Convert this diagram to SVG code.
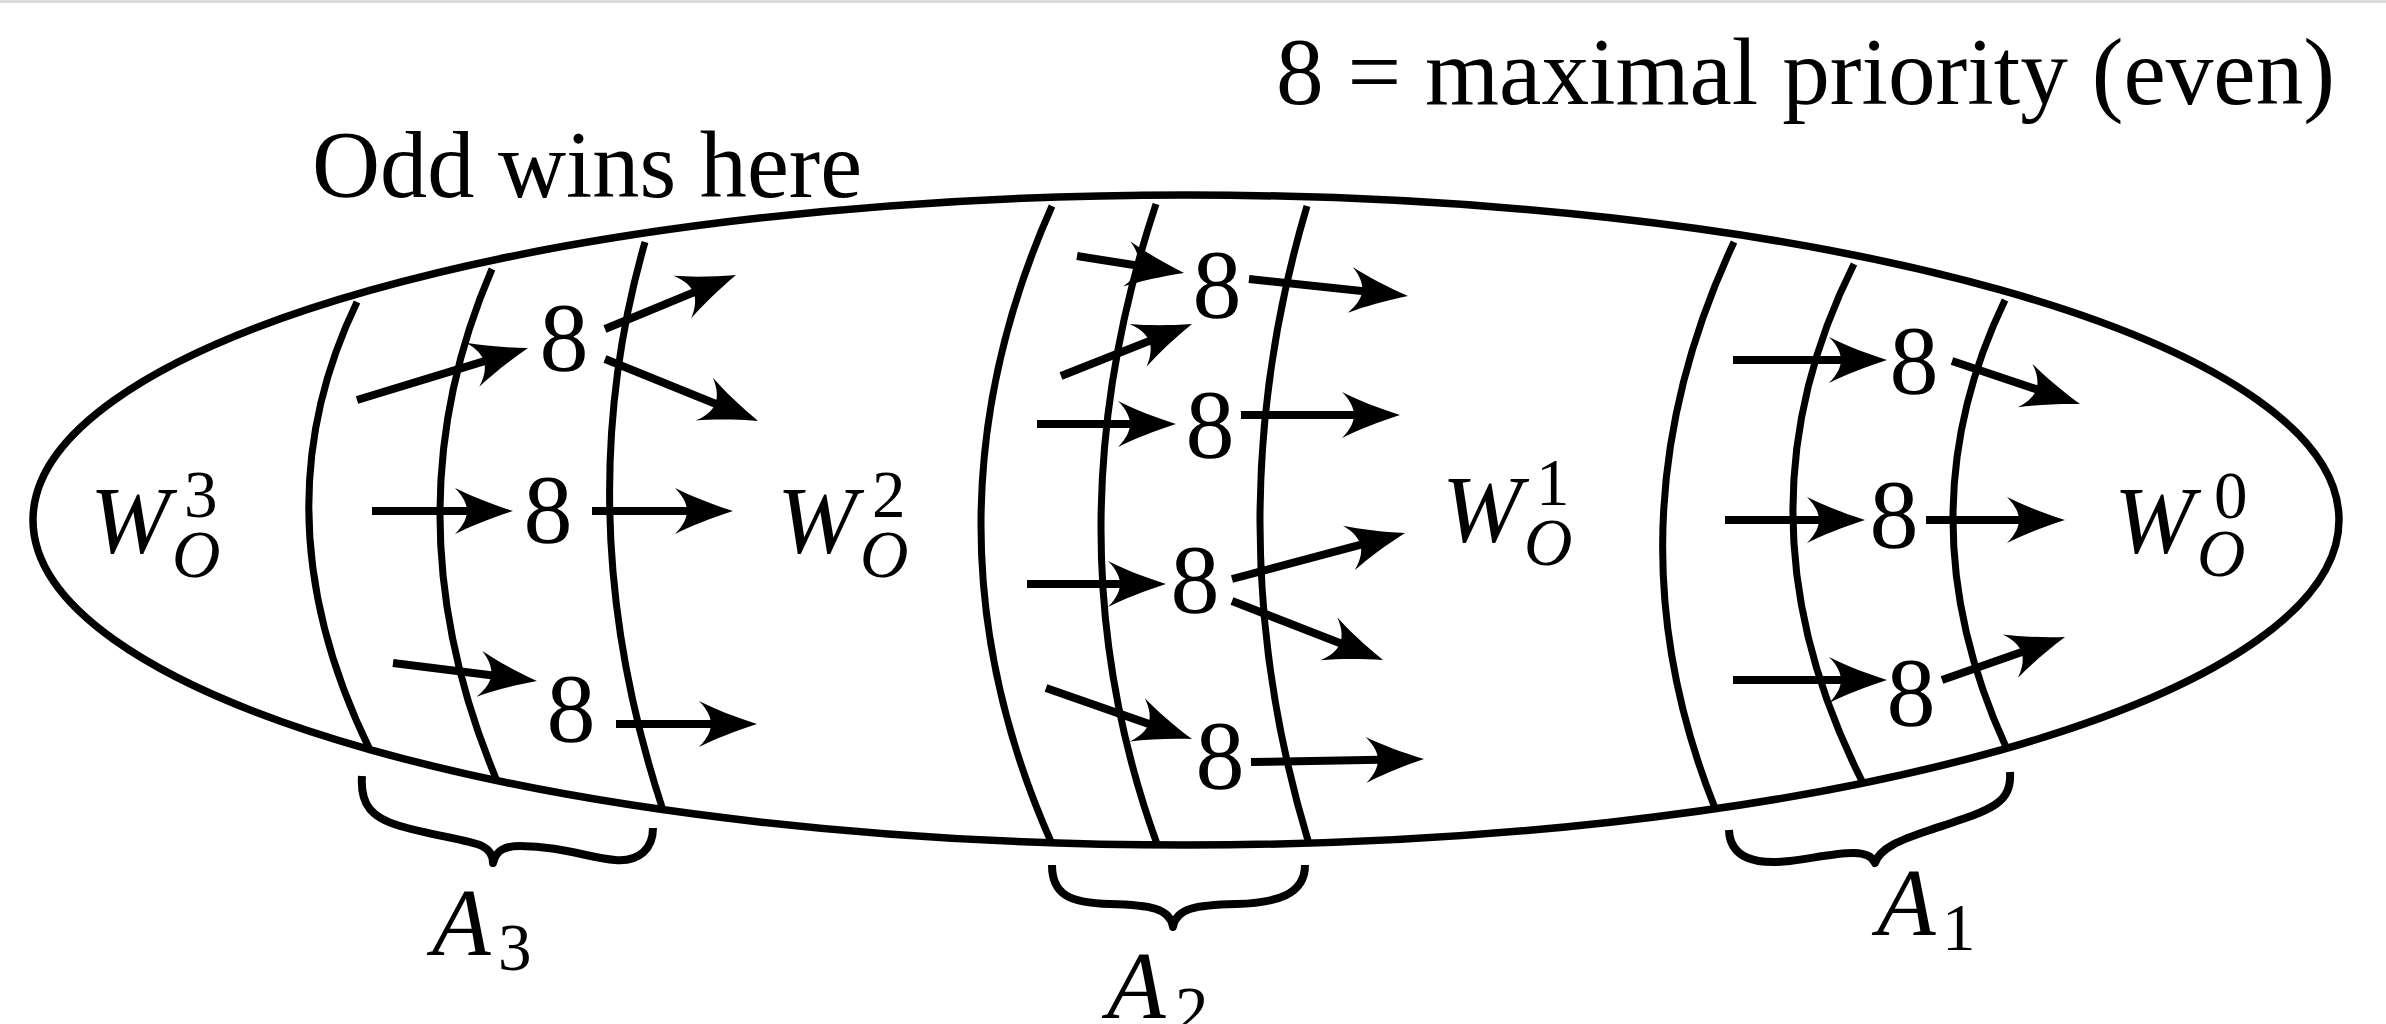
<svg xmlns="http://www.w3.org/2000/svg" width="2386" height="1024" viewBox="0 0 2386 1024">
<defs>
<style>
.el{fill:none;stroke:#000;stroke-width:7.5}
.ln{fill:none;stroke:#000;stroke-width:7}
.br{fill:none;stroke:#000;stroke-width:8;stroke-linejoin:round}
.ar{fill:none;stroke:#000;stroke-width:8;marker-end:url(#hd)}
.t{font-family:"Liberation Serif","Times New Roman",serif;font-size:96px;fill:#000}
.i{font-style:italic}
.s{font-size:67px}
.n{font-family:"Liberation Serif","Times New Roman",serif;font-size:98px;fill:#000;text-anchor:middle}
</style>
<marker id="hd" markerUnits="userSpaceOnUse" markerWidth="70" markerHeight="56" refX="0" refY="0" orient="auto" overflow="visible">
<path d="M30,0 C8,-7 -12,-15 -28,-23 C-19,-14 -16,-6 -16,0 C-16,6 -19,14 -28,23 C-12,15 8,7 30,0 Z" fill="#000"/>
</marker>
</defs>
<rect x="0" y="0" width="2386" height="3" fill="#dcdcdc"/>
<g id="outer-set">
<ellipse class="el" cx="1186" cy="520" rx="1153" ry="325"/>
</g>
<g id="A3-region">
<path class="ln" d="M357,302 Q254.5,514 370,750"/>
<path class="ln" d="M492,269 Q385.5,515 497,781"/>
<path class="ln" d="M645,242 Q566.5,515.5 662,807"/>
</g>
<g id="A2-region">
<path class="ln" d="M1052,206 Q910,525 1052,844"/>
<path class="ln" d="M1156,204 Q1045.5,536 1157,844"/>
<path class="ln" d="M1307,206 Q1212,525 1309,844"/>
</g>
<g id="A1-region">
<path class="ln" d="M1734,242 Q1601.5,525 1715,808"/>
<path class="ln" d="M1854,264 Q1727.5,516.5 1863,783"/>
<path class="ln" d="M2005,300 Q1900.5,516.5 2006,747"/>
</g>
<g id="title">
<text class="t" x="1276" y="104" textLength="1059" lengthAdjust="spacingAndGlyphs">8 = maximal priority (even)</text>
</g>
<g id="odd-label">
<text class="t" x="312" y="197" textLength="550" lengthAdjust="spacingAndGlyphs">Odd wins here</text>
</g>
<g id="W3"><text class="t"><tspan class="i" x="90" y="553">W</tspan><tspan class="s" x="184" y="517">3</tspan><tspan class="i s" x="172" y="577">O</tspan></text></g>
<g id="W2"><text class="t"><tspan class="i" x="777" y="553">W</tspan><tspan class="s" x="872" y="517">2</tspan><tspan class="i s" x="860" y="577">O</tspan></text></g>
<g id="W1"><text class="t"><tspan class="i" x="1442" y="542">W</tspan><tspan class="s" x="1536" y="505">1</tspan><tspan class="i s" x="1524" y="565">O</tspan></text></g>
<g id="W0"><text class="t"><tspan class="i" x="2114" y="553">W</tspan><tspan class="s" x="2214" y="518">0</tspan><tspan class="i s" x="2197" y="576">O</tspan></text></g>
<g id="A3-nodes">
<text class="n" x="564" y="370">8</text>
<text class="n" x="548" y="542">8</text>
<text class="n" x="571" y="741">8</text>
</g>
<g id="A2-nodes">
<text class="n" x="1217" y="317">8</text>
<text class="n" x="1210" y="457">8</text>
<text class="n" x="1195" y="612">8</text>
<text class="n" x="1220" y="788">8</text>
</g>
<g id="A1-nodes">
<text class="n" x="1914" y="393">8</text>
<text class="n" x="1894" y="547">8</text>
<text class="n" x="1911" y="725">8</text>
</g>
<g id="connectors">
<line class="ar" x1="357" y1="400" x2="499.3" y2="356.7"/>
<line class="ar" x1="372" y1="511" x2="483" y2="511"/>
<line class="ar" x1="393" y1="663" x2="507.2" y2="677.3"/>
<line class="ar" x1="605" y1="329" x2="708.3" y2="286.4"/>
<line class="ar" x1="605" y1="359" x2="730.2" y2="409.7"/>
<line class="ar" x1="592" y1="511" x2="703" y2="511"/>
<line class="ar" x1="616" y1="724" x2="727" y2="724"/>
<line class="ar" x1="1077" y1="256" x2="1154.4" y2="268.3"/>
<line class="ar" x1="1061" y1="376" x2="1164.1" y2="335.1"/>
<line class="ar" x1="1037" y1="424" x2="1146" y2="424"/>
<line class="ar" x1="1027" y1="584" x2="1136" y2="584"/>
<line class="ar" x1="1046" y1="688" x2="1163.7" y2="729.1"/>
<line class="ar" x1="1249" y1="279" x2="1378.2" y2="292.8"/>
<line class="ar" x1="1241" y1="415" x2="1370" y2="415"/>
<line class="ar" x1="1232" y1="579" x2="1376" y2="540.7"/>
<line class="ar" x1="1232" y1="601" x2="1355.1" y2="649.1"/>
<line class="ar" x1="1251" y1="762" x2="1394" y2="759.5"/>
<line class="ar" x1="1733" y1="360" x2="1857" y2="360"/>
<line class="ar" x1="1725" y1="520" x2="1835" y2="520"/>
<line class="ar" x1="1733" y1="680" x2="1857" y2="680"/>
<line class="ar" x1="1952" y1="361" x2="2051.6" y2="394.4"/>
<line class="ar" x1="1926" y1="520" x2="2035" y2="520"/>
<line class="ar" x1="1942" y1="680" x2="2036.7" y2="646.9"/>
</g>
<g id="brace-A3">
<path class="br" d="M362,776 C360,805 372,818 400,826 C430,835 470,840 482,846 C490,850 493,856 493,863 C496,850 505,846 520,846 C560,846 590,858 615,860 C640,862 653,848 653,828"/>
<text class="t"><tspan class="i" x="432" y="955">A</tspan><tspan class="s" x="498" y="970">3</tspan></text>
</g>
<g id="brace-A2">
<path class="br" d="M1052,865 C1052,895 1070,903 1110,904 C1150,905 1170,908 1173,927 C1176,908 1196,905 1236,904 C1276,903 1305,895 1305,865"/>
<text class="t"><tspan class="i" x="1107" y="1018">A</tspan><tspan class="s" x="1175" y="1033">2</tspan></text>
</g>
<g id="brace-A1">
<path class="br" d="M1729,830 C1730,858 1755,865 1790,861 C1830,856 1868,845 1875,863 C1880,848 1900,840 1930,830 C1990,810 2012,805 2010,772"/>
<text class="t"><tspan class="i" x="1877" y="935">A</tspan><tspan class="s" x="1942" y="950">1</tspan></text>
</g>
</svg>
